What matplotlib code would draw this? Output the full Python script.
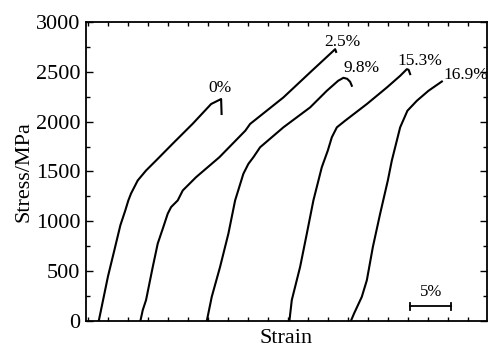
import numpy as np
import matplotlib
matplotlib.use("Agg")
import matplotlib.pyplot as plt

plt.rcParams['font.family'] = ['Liberation Serif', 'DejaVu Serif']

# strain (%) and stress (MPa), curves offset along strain
strain_0 = [1.39, 2.55, 3.34, 4.09, 4.71, 5.09, 5.43, 6.26, 7.30, 8.55, 10.64, 13.14, 15.43, 16.68, 16.74]
stress_0 = [0, 450, 710, 960, 1110, 1210, 1280, 1410, 1510, 1610, 1780, 1980, 2177, 2227, 2077]

strain_25 = [6.59, 6.89, 7.30, 8.14, 8.76, 9.46, 10.01, 10.43, 11.26, 11.89, 13.55, 16.46, 19.71, 20.30, 24.46, 28.01, 30.93, 31.05]
stress_25 = [0, 110, 210, 543, 777, 943, 1077, 1143, 1210, 1310, 1443, 1643, 1910, 1977, 2243, 2510, 2727, 2700]

strain_98 = [14.89, 15.51, 16.55, 17.59, 18.43, 19.46, 20.09, 20.71, 21.55, 24.46, 27.80, 29.89, 31.30, 31.96, 32.43, 32.80, 33.01]
stress_98 = [0, 243, 543, 877, 1210, 1477, 1577, 1643, 1743, 1943, 2143, 2310, 2410, 2440, 2430, 2400, 2360]

strain_153 = [25.21, 25.51, 26.55, 27.39, 28.21, 29.26, 30.01, 30.51, 31.14, 32.18, 34.89, 37.39, 39.05, 39.89, 40.11, 40.30]
stress_153 = [0, 210, 543, 877, 1210, 1543, 1710, 1843, 1943, 2010, 2177, 2343, 2460, 2527, 2520, 2477]

strain_169 = [32.89, 33.30, 34.26, 34.89, 35.64, 36.55, 37.51, 38.01, 39.05, 39.96, 41.14, 42.59, 44.26]
stress_169 = [0, 77, 243, 410, 743, 1077, 1410, 1610, 1943, 2110, 2210, 2310, 2403]

labels = ['0%', '2.5%', '9.8%', '15.3%', '16.9%']
label_x = [16.55, 31.8, 34.18, 41.49, 47.3]
label_y = [2340, 2800, 2540, 2610, 2470]

fig = plt.figure(figsize=(4.89, 3.49), dpi=100)
ax = fig.add_axes([0.1759, 0.0802, 0.82, 0.8568])

for sx, sy in [(strain_0, stress_0), (strain_25, stress_25), (strain_98, stress_98),
               (strain_153, stress_153), (strain_169, stress_169)]:
    ax.plot(sx, sy, color='black', lw=1.5)

for t, x, y in zip(labels, label_x, label_y):
    ax.text(x, y, t, ha='center', va='center', fontsize=12.5)

# scale bar for 5 % strain
ax.plot([40.3, 45.4], [150, 150], color='black', lw=1.3)
ax.plot([40.3, 40.3], [115, 185], color='black', lw=1.3)
ax.plot([45.4, 45.4], [115, 185], color='black', lw=1.3)
ax.text(42.9, 290, '5%', ha='center', va='center', fontsize=12)

ax.set_xlim(-0.2, 49.9)
ax.set_ylim(0, 3000)
ax.set_xticks(np.arange(0, 50, 2.5))
ax.set_xticklabels([])
ax.set_yticks(np.arange(0, 3001, 500))
ax.set_yticks(np.arange(0, 3001, 250), minor=True)
ax.tick_params(axis='x', direction='in', top=True, length=3, width=1)
ax.tick_params(axis='y', which='major', direction='in', right=True, length=5, width=1, labelsize=16, pad=4)
ax.tick_params(axis='y', which='minor', direction='in', right=True, length=3, width=1)
for s in ax.spines.values():
    s.set_linewidth(1.3)

ax.set_xlabel('Strain', fontsize=16, labelpad=2)
ax.set_ylabel('Stress/MPa', fontsize=16, labelpad=2)

fig.savefig('out.png', dpi=100)
